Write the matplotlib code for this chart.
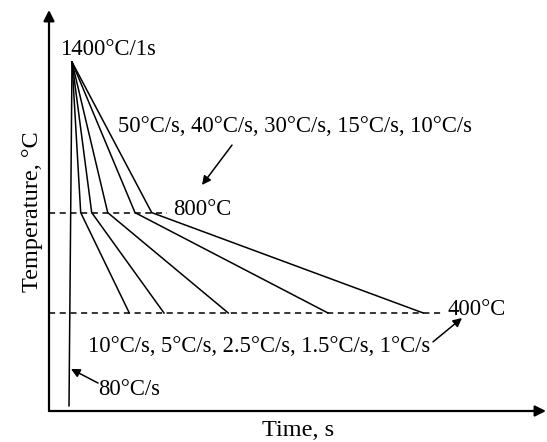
import matplotlib.pyplot as plt

plt.rcParams["font.family"] = ["Liberation Serif", "DejaVu Serif"]

# Schematic heat-treatment schedule (time in arbitrary units, temperature in degC)
heat_time = [20, 23]
heat_temp = [30, 1400]

peak_time = 23
peak_temp = 1400
mid_temp = 800
end_temp = 400

# time at which each path reaches 800 degC and then 400 degC
t_800 = [31.7, 42.7, 58.7, 86.0, 102.7]
t_400 = [80.3, 115.0, 179.3, 279.0, 374.3]

dash_800_end = 118
dash_400_end = 393

FS = 16.3
LABEL_FS = 17.5

fig = plt.figure(figsize=(5.47, 4.42), dpi=100)
W, H = 547, 442
ax = fig.add_axes([49 / W, (H - 411) / H, (546 - 49) / W, (411 - 10) / H])
ax.set_xlim(0, 497)
ax.set_ylim((413.4 - 411) / 0.251, (413.4 - 10) / 0.251)
for s in ax.spines.values():
    s.set_visible(False)
ax.set_xticks([])
ax.set_yticks([])

arrow_kw = dict(arrowstyle="-|>", color="black", lw=1.6, mutation_scale=16,
                shrinkA=0, shrinkB=0)
ax.annotate("", xy=(0, 1), xytext=(0, 0), xycoords="axes fraction",
            arrowprops=arrow_kw)
ax.annotate("", xy=(1, 0), xytext=(0, 0), xycoords="axes fraction",
            arrowprops=arrow_kw)

# reference levels
ax.plot([0, dash_800_end], [mid_temp, mid_temp], color="black", lw=1.1,
        dashes=(4, 3))
ax.plot([0, dash_400_end], [end_temp, end_temp], color="black", lw=1.1,
        dashes=(4, 3))

# heating
ax.plot(heat_time, heat_temp, color="black", lw=1.1)

# cooling paths
for a, b in zip(t_800, t_400):
    ax.plot([peak_time, a, b], [peak_temp, mid_temp, end_temp],
            color="black", lw=1.1, solid_joinstyle="miter")

ax.text(11, 1428, "1400°C/1s", fontsize=FS, va="baseline")
ax.text(69, 1121, "50°C/s, 40°C/s, 30°C/s, 15°C/s, 10°C/s", fontsize=FS,
        va="baseline")
ax.text(124, 790, "800°C", fontsize=FS, va="baseline")
ax.text(398, 392, "400°C", fontsize=FS, va="baseline")
ax.text(39, 245, "10°C/s, 5°C/s, 2.5°C/s, 1.5°C/s, 1°C/s", fontsize=FS,
        va="baseline")
ax.text(49, 73, "80°C/s", fontsize=FS, va="baseline")

small_arrow = dict(arrowstyle="-|>", color="black", lw=1.1, mutation_scale=13,
                   shrinkA=0, shrinkB=0)
ax.annotate("", xy=(153, 910), xytext=(183, 1069), arrowprops=small_arrow)
ax.annotate("", xy=(413, 380), xytext=(384, 285), arrowprops=small_arrow)
ax.annotate("", xy=(22, 177), xytext=(49, 121), arrowprops=small_arrow)

fig.text(298 / W, 1 - 436 / H, "Time, s", fontsize=LABEL_FS, ha="center",
         va="baseline")
fig.text(38 / W, 1 - 212 / H, "Temperature, °C", fontsize=LABEL_FS,
         ha="center", va="baseline", rotation=90, rotation_mode="anchor")

fig.savefig("out.png", dpi=100)
